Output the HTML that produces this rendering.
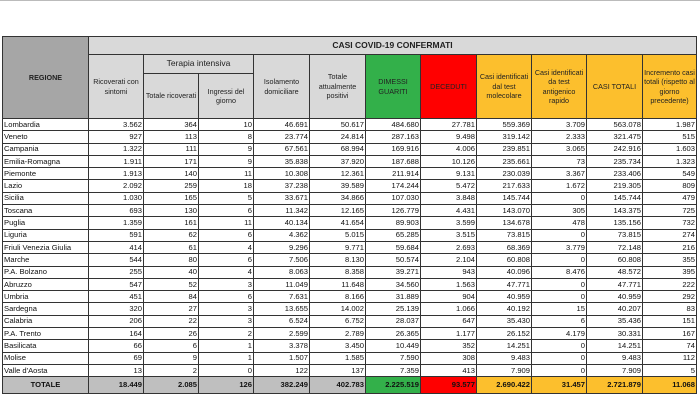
<!DOCTYPE html>
<html><head><meta charset="utf-8"><style>
body{margin:0;width:700px;height:400px;background:#fff;position:relative;overflow:hidden;font-family:"Liberation Sans",sans-serif;}
.topline{position:absolute;left:0;top:0;width:700px;height:1px;background:#bbb}
table{position:absolute;left:2px;top:36px;border-collapse:collapse;table-layout:fixed;font-size:7.6px;color:#111}
td{border:1px solid #333;padding:0 1px;overflow:hidden;white-space:nowrap;line-height:10px}
.h{background:#d9d9d9;text-align:center;white-space:normal;line-height:9.5px;color:#222;font-size:7.2px}
.reg{background:#a6a6a6;font-weight:bold;text-align:center}
.t{font-weight:bold;font-size:8.5px}
.g{background:#33b04a}.r{background:#ff0000}.o{background:#fcbf2d}
tr.d td{height:11.3px;text-align:right}
tr.d td:first-child{text-align:left}
tr.tot td{height:16px;text-align:right;font-weight:bold;background:#bfbfbf}
tr.tot td:first-child{text-align:center}
tr.tot td.g{background:#33b04a}tr.tot td.r{background:#ff0000}tr.tot td.o{background:#fcbf2d}
</style></head><body>
<div class="topline"></div>
<table>
<colgroup><col style="width:86px"><col style="width:55px"><col style="width:55px"><col style="width:55px"><col style="width:56px"><col style="width:56px"><col style="width:55px"><col style="width:56px"><col style="width:55px"><col style="width:55px"><col style="width:56px"><col style="width:54px"></colgroup>
<tr><td class="reg h" rowspan="3" style="background:#a6a6a6;font-weight:bold">REGIONE</td><td class="h t" colspan="11" style="height:17px">CASI COVID-19 CONFERMATI</td></tr>
<tr><td class="h" rowspan="2">Ricoverati con sintomi</td><td class="h" colspan="2" style="height:18px;font-size:8.5px">Terapia intensiva</td><td class="h" rowspan="2">Isolamento domiciliare</td><td class="h" rowspan="2">Totale attualmente positivi</td><td class="h g" rowspan="2">DIMESSI GUARITI</td><td class="h r" rowspan="2">DECEDUTI</td><td class="h o" rowspan="2">Casi identificati dal test molecolare</td><td class="h o" rowspan="2">Casi identificati da test antigenico rapido</td><td class="h o" rowspan="2">CASI TOTALI</td><td class="h o" rowspan="2">Incremento casi totali (rispetto al giorno precedente)</td></tr>
<tr><td class="h" style="height:44px">Totale ricoverati</td><td class="h">Ingressi del giorno</td></tr>
<tr class="d"><td>Lombardia</td><td>3.562</td><td>364</td><td>10</td><td>46.691</td><td>50.617</td><td>484.680</td><td>27.781</td><td>559.369</td><td>3.709</td><td>563.078</td><td>1.987</td></tr>
<tr class="d"><td>Veneto</td><td>927</td><td>113</td><td>8</td><td>23.774</td><td>24.814</td><td>287.163</td><td>9.498</td><td>319.142</td><td>2.333</td><td>321.475</td><td>515</td></tr>
<tr class="d"><td>Campania</td><td>1.322</td><td>111</td><td>9</td><td>67.561</td><td>68.994</td><td>169.916</td><td>4.006</td><td>239.851</td><td>3.065</td><td>242.916</td><td>1.603</td></tr>
<tr class="d"><td>Emilia-Romagna</td><td>1.911</td><td>171</td><td>9</td><td>35.838</td><td>37.920</td><td>187.688</td><td>10.126</td><td>235.661</td><td>73</td><td>235.734</td><td>1.323</td></tr>
<tr class="d"><td>Piemonte</td><td>1.913</td><td>140</td><td>11</td><td>10.308</td><td>12.361</td><td>211.914</td><td>9.131</td><td>230.039</td><td>3.367</td><td>233.406</td><td>549</td></tr>
<tr class="d"><td>Lazio</td><td>2.092</td><td>259</td><td>18</td><td>37.238</td><td>39.589</td><td>174.244</td><td>5.472</td><td>217.633</td><td>1.672</td><td>219.305</td><td>809</td></tr>
<tr class="d"><td>Sicilia</td><td>1.030</td><td>165</td><td>5</td><td>33.671</td><td>34.866</td><td>107.030</td><td>3.848</td><td>145.744</td><td>0</td><td>145.744</td><td>479</td></tr>
<tr class="d"><td>Toscana</td><td>693</td><td>130</td><td>6</td><td>11.342</td><td>12.165</td><td>126.779</td><td>4.431</td><td>143.070</td><td>305</td><td>143.375</td><td>725</td></tr>
<tr class="d"><td>Puglia</td><td>1.359</td><td>161</td><td>11</td><td>40.134</td><td>41.654</td><td>89.903</td><td>3.599</td><td>134.678</td><td>478</td><td>135.156</td><td>732</td></tr>
<tr class="d"><td>Liguria</td><td>591</td><td>62</td><td>6</td><td>4.362</td><td>5.015</td><td>65.285</td><td>3.515</td><td>73.815</td><td>0</td><td>73.815</td><td>274</td></tr>
<tr class="d"><td>Friuli Venezia Giulia</td><td>414</td><td>61</td><td>4</td><td>9.296</td><td>9.771</td><td>59.684</td><td>2.693</td><td>68.369</td><td>3.779</td><td>72.148</td><td>216</td></tr>
<tr class="d"><td>Marche</td><td>544</td><td>80</td><td>6</td><td>7.506</td><td>8.130</td><td>50.574</td><td>2.104</td><td>60.808</td><td>0</td><td>60.808</td><td>355</td></tr>
<tr class="d"><td>P.A. Bolzano</td><td>255</td><td>40</td><td>4</td><td>8.063</td><td>8.358</td><td>39.271</td><td>943</td><td>40.096</td><td>8.476</td><td>48.572</td><td>395</td></tr>
<tr class="d"><td>Abruzzo</td><td>547</td><td>52</td><td>3</td><td>11.049</td><td>11.648</td><td>34.560</td><td>1.563</td><td>47.771</td><td>0</td><td>47.771</td><td>222</td></tr>
<tr class="d"><td>Umbria</td><td>451</td><td>84</td><td>6</td><td>7.631</td><td>8.166</td><td>31.889</td><td>904</td><td>40.959</td><td>0</td><td>40.959</td><td>292</td></tr>
<tr class="d"><td>Sardegna</td><td>320</td><td>27</td><td>3</td><td>13.655</td><td>14.002</td><td>25.139</td><td>1.066</td><td>40.192</td><td>15</td><td>40.207</td><td>83</td></tr>
<tr class="d"><td>Calabria</td><td>206</td><td>22</td><td>3</td><td>6.524</td><td>6.752</td><td>28.037</td><td>647</td><td>35.430</td><td>6</td><td>35.436</td><td>151</td></tr>
<tr class="d"><td>P.A. Trento</td><td>164</td><td>26</td><td>2</td><td>2.599</td><td>2.789</td><td>26.365</td><td>1.177</td><td>26.152</td><td>4.179</td><td>30.331</td><td>167</td></tr>
<tr class="d"><td>Basilicata</td><td>66</td><td>6</td><td>1</td><td>3.378</td><td>3.450</td><td>10.449</td><td>352</td><td>14.251</td><td>0</td><td>14.251</td><td>74</td></tr>
<tr class="d"><td>Molise</td><td>69</td><td>9</td><td>1</td><td>1.507</td><td>1.585</td><td>7.590</td><td>308</td><td>9.483</td><td>0</td><td>9.483</td><td>112</td></tr>
<tr class="d"><td>Valle d'Aosta</td><td>13</td><td>2</td><td>0</td><td>122</td><td>137</td><td>7.359</td><td>413</td><td>7.909</td><td>0</td><td>7.909</td><td>5</td></tr>
<tr class="tot"><td>TOTALE</td><td>18.449</td><td>2.085</td><td>126</td><td>382.249</td><td>402.783</td><td class="g">2.225.519</td><td class="r">93.577</td><td class="o">2.690.422</td><td class="o">31.457</td><td class="o">2.721.879</td><td class="o">11.068</td></tr>
</table>
</body></html>
